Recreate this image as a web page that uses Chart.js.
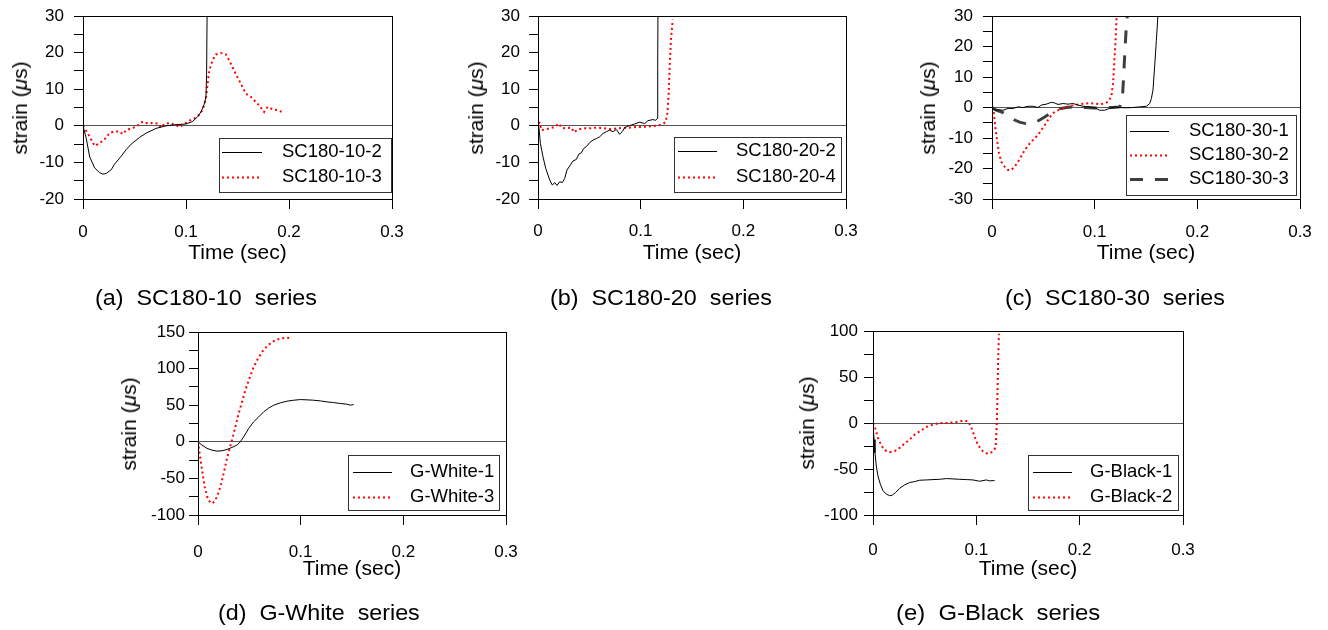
<!DOCTYPE html>
<html lang="en">
<head>
<meta charset="UTF-8">
<title>Strain - time histories</title>
<script src="https://cdn.jsdelivr.net/npm/chart.js"></script>
<style>
  body { margin: 0; width: 1328px; height: 630px; position: relative; overflow: hidden; background: #fff;
         font-family: "Liberation Sans", Arial, sans-serif; color: #000; }
  canvas { position: absolute; }
  .ytitle { position: absolute; font-size: 21px; white-space: nowrap; transform: translate(-50%, -50%) rotate(-90deg); }
  .xtitle { position: absolute; font-size: 21px; white-space: nowrap; transform: translate(-50%, -50%); }
  .cap { position: absolute; font-size: 22px; white-space: pre; transform-origin: 0 50%; }
</style>
</head>
<body>
<script>
// ---- data (time in sec, strain in micro-strain) ----
// (a) SC180-10
const tA2 = [0, 0.0032, 0.0065, 0.0113, 0.0161, 0.0194, 0.0226, 0.0274, 0.0306, 0.0371, 0.0419, 0.0468, 0.0548, 0.0613, 0.071, 0.0806, 0.0903, 0.1, 0.1065, 0.1113, 0.1145, 0.1177, 0.1194, 0.12, 0.1206];
const sA2 = [0, -3.5, -8.5, -11.5, -12.8, -13.2, -13, -12, -10.5, -8.3, -6.5, -5, -3.2, -2, -0.7, 0, 0.3, 0.5, 1.2, 2.5, 3.8, 5.9, 8, 14, 35];
const tA3 = [0, 0.0065, 0.0113, 0.0145, 0.0177, 0.021, 0.0258, 0.0306, 0.0355, 0.0387, 0.0419, 0.0468, 0.0516, 0.0565, 0.0587, 0.0629, 0.0677, 0.0726, 0.0758, 0.079, 0.0839, 0.0903, 0.0935, 0.0984, 0.1032, 0.1081, 0.1129, 0.1161, 0.1194, 0.121, 0.1226, 0.1258, 0.129, 0.1339, 0.1387, 0.1419, 0.1452, 0.149, 0.1532, 0.1581, 0.1629, 0.1661, 0.171, 0.1758, 0.1774, 0.18, 0.1839, 0.1887, 0.1919, 0.1952];
const sA3 = [0, -3, -5.5, -5, -4.4, -3.7, -2, -1.5, -1.6, -2.3, -1.2, -0.7, -0.3, 0.9, 1.1, 0.6, 0.8, 0.6, -0.5, 0.5, 0.8, 0.2, -0.3, 0.5, 1.4, 2, 3, 4.3, 7.5, 11.5, 15.2, 17.9, 19.5, 19.9, 19.5, 17.9, 16, 13.8, 11.5, 8.8, 7.9, 7, 5.6, 3.8, 4.7, 5.2, 4.5, 4.3, 3.9, 4.1];

// (b) SC180-20
const tB2 = [0, 0.001, 0.0023, 0.0049, 0.0075, 0.0114, 0.014, 0.0162, 0.0185, 0.0211, 0.0237, 0.026, 0.0282, 0.0315, 0.0341, 0.0373, 0.0399, 0.0422, 0.0445, 0.0471, 0.0503, 0.0536, 0.0568, 0.0601, 0.0633, 0.0666, 0.0698, 0.0731, 0.0763, 0.0795, 0.0821, 0.0844, 0.0877, 0.0909, 0.0942, 0.099, 0.1039, 0.1071, 0.112, 0.1146, 0.1162, 0.1166, 0.1169];
const sB2 = [0, -0.7, -4.8, -8.5, -11.6, -14.8, -16.2, -15.5, -16.3, -15.3, -15.5, -14.4, -12.1, -10.7, -9.6, -9.2, -7.7, -7.4, -6.2, -5.7, -4.6, -3.9, -3.5, -3, -2.1, -1.6, -1.2, -1.6, -1, -2.3, -1.6, -0.5, -0.1, 0.2, 0.5, 1, 0.6, 1.4, 1.7, 1.5, 2, 16, 35];
const tB4 = [0, 0.0016, 0.0032, 0.0065, 0.0114, 0.0162, 0.0205, 0.0227, 0.0276, 0.0325, 0.0351, 0.039, 0.0438, 0.0503, 0.0568, 0.0633, 0.0698, 0.0763, 0.0828, 0.0893, 0.0958, 0.1023, 0.112, 0.1185, 0.1218, 0.1244, 0.126, 0.1273, 0.1282, 0.1295, 0.1312];
const sB4 = [0.6, 0.8, -1.2, -1, -0.7, -0.3, 0.6, -0.5, -0.7, -0.5, -1.8, -1, -0.7, -0.7, -0.5, -0.6, -0.9, -0.7, -0.6, -0.5, -0.3, -0.3, -0.1, 0.2, 0.5, 1.1, 3.4, 8.8, 16, 23.4, 29];

// (c) SC180-30
const tC1 = [0, 0.0026, 0.0058, 0.0107, 0.0156, 0.0205, 0.0253, 0.0302, 0.0351, 0.0399, 0.0448, 0.0481, 0.0529, 0.0578, 0.061, 0.0643, 0.0692, 0.074, 0.0789, 0.0838, 0.0886, 0.0951, 0.1, 0.1049, 0.1097, 0.1146, 0.1195, 0.1244, 0.1308, 0.1373, 0.1438, 0.1503, 0.1536, 0.1552, 0.1568, 0.1584, 0.1601, 0.1617];
const sC1 = [0, -0.9, -0.7, -0.9, -0.3, -0.3, 0.2, 0, 0.4, 0.4, 0, 0.8, 1.1, 1.7, 1.5, 1, 1.3, 1.1, 1.3, 0.8, 0.4, 0.2, 0, -0.9, -0.9, -0.3, 0.2, 0, -0.1, 0, 0.2, 0.4, 1.3, 2.9, 5.7, 13.3, 22, 30.5];
const tC2 = [0, 0.0016, 0.0032, 0.0049, 0.0068, 0.0091, 0.0123, 0.0156, 0.0188, 0.0221, 0.0253, 0.0286, 0.0318, 0.0367, 0.0416, 0.0448, 0.0481, 0.0513, 0.0545, 0.0578, 0.061, 0.0659, 0.0708, 0.0756, 0.0805, 0.0854, 0.0903, 0.0951, 0.1, 0.1049, 0.1097, 0.113, 0.1162, 0.1179, 0.1192, 0.1205, 0.1214];
const sC2 = [0, -1.4, -6.3, -10.7, -15, -17.8, -19.4, -20.5, -20.5, -19.4, -17.8, -15.9, -14, -11.8, -10.1, -9, -7.4, -5.8, -4.1, -2.5, -1.4, -0.7, 0, 0.4, 0.8, 1.1, 1.3, 1.4, 1.3, 1.1, 1.3, 1.9, 3.5, 7.9, 15.5, 23, 30];
const tC3 = [0, 0.0042, 0.0107, 0.0162, 0.0221, 0.0269, 0.0318, 0.0367, 0.0416, 0.0464, 0.0513, 0.0562, 0.061, 0.0659, 0.0724, 0.0789, 0.0854, 0.0919, 0.0984, 0.1049, 0.1114, 0.1179, 0.1244, 0.1269, 0.1282, 0.1295, 0.1308, 0.1321];
const sC3 = [0, -0.9, -1.7, -2.8, -4.1, -4.8, -5.2, -5.5, -5, -4.1, -3.1, -2, -1.1, -0.4, 0, 0.2, 0, 0, -0.2, -0.2, 0, 0, 0.2, 2.4, 10, 18.8, 26.4, 31];

// (d) G-White
const tD1 = [0, 0.0039, 0.0088, 0.0136, 0.0185, 0.0234, 0.0282, 0.0331, 0.038, 0.0412, 0.0445, 0.0494, 0.0542, 0.0591, 0.064, 0.0688, 0.0737, 0.0802, 0.0867, 0.0932, 0.0997, 0.1062, 0.1127, 0.1192, 0.1256, 0.1321, 0.1386, 0.1451, 0.1484, 0.1516];
const sD1 = [0, -4.5, -9, -11.4, -12.7, -12.3, -10.5, -7.7, -4.5, 0, 6.8, 18.2, 27.3, 34, 41, 46, 50, 53.2, 55.5, 56.8, 57.7, 57.3, 56.8, 55.9, 54.5, 53.6, 52.3, 51.4, 50, 50.9];
const tD3 = [0, 0.0016, 0.0039, 0.0065, 0.0094, 0.012, 0.0136, 0.0159, 0.0185, 0.0218, 0.025, 0.0282, 0.0308, 0.0331, 0.0364, 0.0396, 0.0429, 0.0461, 0.0494, 0.0536, 0.0575, 0.0623, 0.0672, 0.0721, 0.0769, 0.0818, 0.0867, 0.0916];
const sD3 = [0, -16, -38.6, -61.4, -77.3, -83.2, -84, -81.8, -75, -61.4, -43.2, -22.7, -9.1, 2.3, 20.5, 38.6, 54.5, 70.5, 84, 100, 111.4, 122.7, 130.5, 136.4, 139.5, 141.4, 142.3, 141];

// (e) G-Black
const tE1 = [0, 0.001, 0.0019, 0.0032, 0.0048, 0.0071, 0.0097, 0.0129, 0.0161, 0.0187, 0.0219, 0.0258, 0.0306, 0.0355, 0.0403, 0.0452, 0.0516, 0.0581, 0.0645, 0.071, 0.0774, 0.0839, 0.0903, 0.0968, 0.1032, 0.1065, 0.1097, 0.1129, 0.1177];
const sE1 = [0, -18, -32.4, -46.8, -57.6, -66.5, -73.7, -77.3, -79, -78.4, -75.5, -70.9, -67.3, -64.7, -63.7, -62.2, -61.9, -61.5, -61.2, -60.4, -60.8, -61.2, -61.5, -61.9, -63.3, -62.6, -61.9, -62.9, -62.6];
const tE2 = [0, 0.0026, 0.0048, 0.0081, 0.0113, 0.0161, 0.021, 0.0258, 0.0306, 0.0355, 0.0403, 0.0452, 0.0516, 0.0581, 0.0645, 0.071, 0.0806, 0.0871, 0.0919, 0.0952, 0.0984, 0.1016, 0.1065, 0.111, 0.1145, 0.1187, 0.12, 0.1206, 0.1213, 0.1219];
const sE2 = [0, -7.2, -16.2, -24.5, -29.5, -31.7, -30.6, -27, -22.3, -18, -12.6, -9, -4.3, -1.8, 0, 0, 1, 2.5, 2, -5, -15, -24, -31, -33.5, -32, -27, 5, 39.6, 75.5, 97];

// tick labels
const xTicks = ['0', '0.1', '0.2', '0.3'];

// ---- styles ----
Chart.defaults.font.family = '"Liberation Sans", Arial, sans-serif';
Chart.defaults.color = '#000';
const solid = { borderColor: '#000', borderWidth: 1 };
const dotted = { borderColor: '#ff0000', borderWidth: 2, borderDash: [2, 3] };
const dashed = { borderColor: '#3e3e3e', borderWidth: 3, borderDash: [13, 12] };

function pts(t, s) { return t.map((x, i) => ({ x: x, y: s[i] })); }

// frame around the plot + boxed legend inside it
const frameLegend = {
  id: 'frameLegend',
  afterDraw(chart, args, o) {
    const ctx = chart.ctx, a = chart.chartArea;
    ctx.save();
    ctx.strokeStyle = '#000';
    ctx.lineWidth = 1;
    ctx.setLineDash([]);
    ctx.strokeRect(Math.round(a.left) + 0.5, Math.round(a.top) + 0.5, Math.round(a.right - a.left), Math.round(a.bottom - a.top));
    const ox = o.origin[0], oy = o.origin[1];
    const b = o.box;
    ctx.fillStyle = '#fff';
    ctx.fillRect(b[0] - ox, b[1] - oy, b[2] - b[0], b[3] - b[1]);
    ctx.strokeStyle = '#333';
    ctx.strokeRect(b[0] - ox + 0.5, b[1] - oy + 0.5, b[2] - b[0], b[3] - b[1]);
    ctx.font = '18.5px "Liberation Sans", Arial, sans-serif';
    ctx.textBaseline = 'middle';
    chart.data.datasets.forEach((ds, i) => {
      const y = o.rows[i] - oy;
      ctx.beginPath();
      ctx.setLineDash(ds.borderDash || []);
      ctx.strokeStyle = ds.borderColor;
      ctx.lineWidth = ds.borderWidth;
      ctx.moveTo(o.sample[0] - ox, Math.round(y) + 0.5);
      ctx.lineTo(o.sample[1] - ox, Math.round(y) + 0.5);
      ctx.stroke();
      ctx.setLineDash([]);
      ctx.fillStyle = '#000';
      ctx.fillText(ds.label, o.textX - ox, y);
    });
    ctx.restore();
  }
};

function addText(cls, html, x, y) {
  const d = document.createElement('div');
  d.className = cls;
  d.innerHTML = html;
  d.style.left = x + 'px';
  d.style.top = y + 'px';
  document.body.appendChild(d);
  return d;
}

function makePanel(p, datasets) {
  // room round the plot area for tick marks and labels
  const padL = 83, padT = 26, padR = 45, padB = 45;
  const w = p.R - p.L + padL + padR, h = p.B - p.T + padT + padB;
  const cv = document.createElement('canvas');
  cv.width = w; cv.height = h;
  cv.style.left = (p.L - padL) + 'px';
  cv.style.top = (p.T - padT) + 'px';
  cv.style.width = w + 'px';
  cv.style.height = h + 'px';
  document.body.appendChild(cv);

  const legendOpts = Object.assign({ origin: [p.L - padL, p.T - padT] }, p.legend);

  new Chart(cv, {
    type: 'line',
    data: { datasets: datasets },
    options: {
      responsive: false,
      animation: false,
      events: [],
      layout: { padding: { left: 0, top: padT, right: padR, bottom: 0 } },
      elements: { point: { radius: 0 }, line: { tension: 0 } },
      plugins: { legend: { display: false }, tooltip: { enabled: false }, frameLegend: legendOpts },
      scales: {
        x: {
          type: 'linear', min: 0, max: 0.3,
          afterFit: s => { s.height = padB; },
          ticks: { stepSize: 0.1, autoSkip: false, maxRotation: 0, padding: p.xPad, font: { size: 17 },
                   callback: (v, i) => xTicks[i] },
          grid: { drawOnChartArea: false, tickLength: 10, tickColor: '#000' },
          border: { color: '#000' }
        },
        y: {
          min: p.yMin, max: p.yMax,
          afterFit: s => { s.width = padL; },
          ticks: { stepSize: p.yStep, autoSkip: false, padding: p.yPad, font: { size: 17 },
                   callback: v => (v % p.yLabel === 0 ? String(v) : '') },
          grid: { color: c => (c.tick && c.tick.value === 0 ? '#555' : 'rgba(0,0,0,0)'), tickLength: 9, tickColor: '#000' },
          border: { color: '#000' }
        }
      }
    },
    plugins: [frameLegend]
  });

  addText('ytitle', 'strain (<i>&mu;</i>s)', p.L - p.yTitleOff, (p.T + p.B) / 2);
  addText('xtitle', 'Time (sec)', (p.L + p.R) / 2, p.B + 53);
  const c = addText('cap', p.caption, p.capX, p.capY);
  c.style.transform = 'translateY(-50%) scaleX(' + (p.capW / c.offsetWidth).toFixed(3) + ')';
}

makePanel({ L: 83, T: 16, R: 392, B: 199, yMin: -20, yMax: 30, yStep: 5, yLabel: 10, yTitleOff: 63, yPad: 10, xPad: 13,
            caption: '(a)  SC180-10  series', capX: 95, capY: 297.5, capW: 222,
            legend: { box: [219, 138, 391, 192], rows: [151.7, 176.7], sample: [222, 262], textX: 282 } },
  [Object.assign({ label: 'SC180-10-2', data: pts(tA2, sA2) }, solid),
   Object.assign({ label: 'SC180-10-3', data: pts(tA3, sA3) }, dotted)]);

makePanel({ L: 538, T: 16, R: 846, B: 199, yMin: -20, yMax: 30, yStep: 5, yLabel: 10, yTitleOff: 62.5, yPad: 9, xPad: 12,
            caption: '(b)  SC180-20  series', capX: 550, capY: 298, capW: 222,
            legend: { box: [674, 137, 841, 192], rows: [151, 176.5], sample: [678, 717], textX: 736 } },
  [Object.assign({ label: 'SC180-20-2', data: pts(tB2, sB2) }, solid),
   Object.assign({ label: 'SC180-20-4', data: pts(tB4, sB4) }, dotted)]);

makePanel({ L: 992, T: 16, R: 1300, B: 199, yMin: -30, yMax: 30, yStep: 5, yLabel: 10, yTitleOff: 64.5, yPad: 10, xPad: 13,
            caption: '(c)  SC180-30  series', capX: 1005, capY: 298, capW: 220,
            legend: { box: [1126, 115, 1296, 195], rows: [130.7, 155.3, 178.7], sample: [1130, 1169], textX: 1189 } },
  [Object.assign({ label: 'SC180-30-1', data: pts(tC1, sC1) }, solid),
   Object.assign({ label: 'SC180-30-2', data: pts(tC2, sC2) }, dotted),
   Object.assign({ label: 'SC180-30-3', data: pts(tC3, sC3) }, dashed)]);

makePanel({ L: 198, T: 332, R: 506, B: 515, yMin: -100, yMax: 150, yStep: 25, yLabel: 50, yTitleOff: 69, yPad: 4, xPad: 17,
            caption: '(d)  G-White  series', capX: 218, capY: 613, capW: 202,
            legend: { box: [348, 455, 499, 510], rows: [471.7, 496.7], sample: [353, 392], textX: 410 } },
  [Object.assign({ label: 'G-White-1', data: pts(tD1, sD1) }, solid),
   Object.assign({ label: 'G-White-3', data: pts(tD3, sD3) }, dotted)]);

makePanel({ L: 873, T: 331, R: 1183, B: 515, yMin: -100, yMax: 100, yStep: 25, yLabel: 50, yTitleOff: 66, yPad: 6, xPad: 15,
            caption: '(e)  G-Black  series', capX: 896, capY: 613, capW: 204,
            legend: { box: [1028, 455, 1178, 510], rows: [471.7, 496.7], sample: [1033, 1072], textX: 1090 } },
  [Object.assign({ label: 'G-Black-1', data: pts(tE1, sE1) }, solid),
   Object.assign({ label: 'G-Black-2', data: pts(tE2, sE2) }, dotted)]);
</script>
</body>
</html>
